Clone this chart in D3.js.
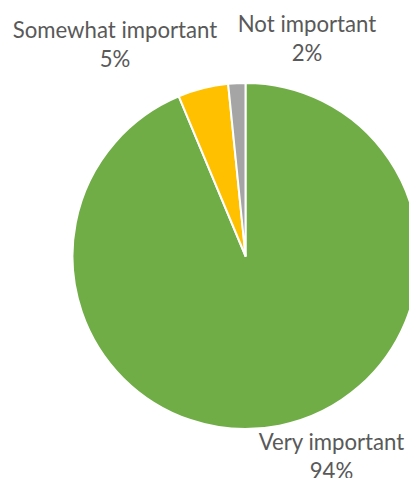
<!DOCTYPE html>
<html>
<head>
<meta charset="utf-8">
<script src="https://cdn.jsdelivr.net/npm/d3@7"></script>
<style>
  html, body { margin: 0; padding: 0; background: #fff; }
  svg { display: block; }
</style>
</head>
<body>
<svg id="chart" width="409" height="478"></svg>
<script>
// Survey responses: how important
const categories = ["Very important", "Somewhat important", "Not important"];
const values = [93.7, 4.7, 1.6];
const colors = ["#70AD47", "#FFC000", "#A5A5A5"];

const svg = d3.select("#chart");
const cx = 245.5, cy = 256, radius = 173;

const pie = d3.pie().sort(null).value(d => d.value);
const arc = d3.arc().innerRadius(0).outerRadius(radius);

const data = categories.map((c, i) => ({ name: c, value: values[i], color: colors[i] }));
const arcs = pie(data);

const g = svg.append("g").attr("transform", `translate(${cx},${cy})`);

g.selectAll("path")
  .data(arcs)
  .join("path")
  .attr("d", arc)
  .attr("fill", d => d.data.color)
  .attr("stroke", "#fff")
  .attr("stroke-width", 2)
  .attr("stroke-linejoin", "round");

// data labels: category name and rounded percentage
const total = d3.sum(values);
const labelPos = [
  { x: 331.5, y: 450 },
  { x: 115, y: 38 },
  { x: 307, y: 32 }
];

const labels = svg.selectAll("text.lbl")
  .data(arcs)
  .join("text")
  .attr("class", "lbl")
  .attr("text-anchor", "middle")
  .attr("font-family", "Lato, 'Open Sans', sans-serif")
  .attr("font-size", 22.2)
  .attr("fill", "#595959")
  .attr("x", (d, i) => labelPos[i].x)
  .attr("y", (d, i) => labelPos[i].y);

labels.append("tspan")
  .attr("x", (d, i) => labelPos[i].x)
  .text(d => d.data.name);
labels.append("tspan")
  .attr("x", (d, i) => labelPos[i].x)
  .attr("dy", 29)
  .text(d => Math.round(d.data.value / total * 100) + "%");
</script>
</body>
</html>
